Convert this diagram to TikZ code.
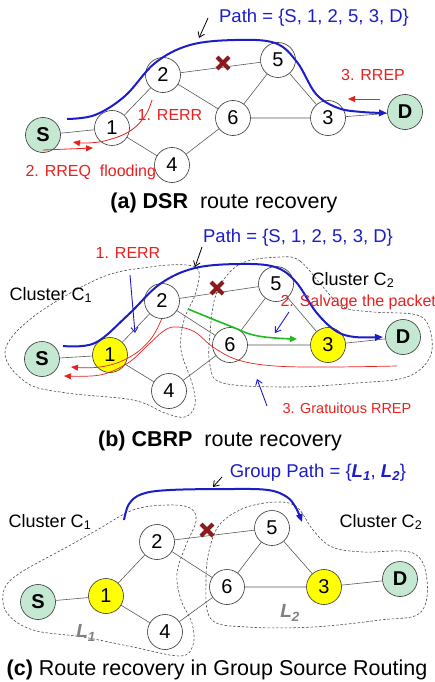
\documentclass[tikz,border=0pt]{standalone}
\usepackage{fontspec}
\setmainfont{Liberation Sans}
\usetikzlibrary{arrows.meta}

\definecolor{nodegreen}{HTML}{C4E8D2}
\definecolor{nodeyellow}{HTML}{FFFF00}
\definecolor{pathblue}{HTML}{1C1CC8}
\definecolor{msgred}{HTML}{E8201E}
\definecolor{brkred}{HTML}{8B1A1A}
\definecolor{salvgreen}{HTML}{22B822}

\begin{document}
\begin{tikzpicture}[x=1pt,y=-1pt,
  vtx/.style={circle,draw=black!80,line width=0.6pt,fill=white,minimum size=35pt,
    inner sep=0pt,font=\fontsize{20}{22}\selectfont},
  endpt/.style={vtx,fill=nodegreen,font=\fontsize{20}{22}\selectfont\bfseries},
  head/.style={vtx,fill=nodeyellow},
  link/.style={draw=black!65,line width=0.6pt},
  route/.style={draw=pathblue,line width=2pt,-{Triangle[length=8pt,width=6.5pt]}},
  msg/.style={draw=msgred,line width=0.8pt,-{Triangle[length=7pt,width=6pt]}},
  salv/.style={draw=salvgreen,line width=1.6pt,-{Triangle[length=7pt,width=6pt]}},
  pointer/.style={draw=pathblue,line width=0.9pt,-{Straight Barb[length=5pt,width=7pt]}},
  callout/.style={draw=black,line width=0.8pt,-{Straight Barb[length=5pt,width=7pt]}},
  cluster/.style={draw=black!70,dash pattern=on 2.5pt off 1.8pt,line width=0.6pt},
  pathlbl/.style={text=pathblue,font=\fontsize{18.5}{20}\selectfont},
  msglbl/.style={text=msgred,font=\fontsize{16}{18}\selectfont},
  clulbl/.style={font=\fontsize{18}{20}\selectfont},
  caption/.style={font=\fontsize{21.5}{24}\selectfont},
  grp/.style={text=black!50,font=\fontsize{19}{20}\selectfont\bfseries\itshape},
  brk/.pic={\draw[brkred,line width=4.2pt] (-6,-6)--(6,6) (-6,6)--(6,-6);}
]
\useasboundingbox (0,0) rectangle (435,682);

% ---------------- (a) DSR ----------------
\node[endpt] (aS) at (43,135) {S};
\node[vtx]   (a1) at (112,128) {1};
\node[vtx]   (a2) at (163,75) {2};
\node[vtx]   (a5) at (278,60) {5};
\node[vtx]   (a6) at (233,118) {6};
\node[vtx]   (a3) at (328,118) {3};
\node[endpt] (aD) at (405,112) {D};
\node[vtx]   (a4) at (172,165) {4};
\draw[link] (aS)--(a1) (a1)--(a2) (a1)--(a4) (a2)--(a5) (a2)--(a6)
            (a5)--(a6) (a5)--(a3) (a6)--(a3) (a3)--(aD) (a4)--(a6);
\pic at (223,63) {brk};
\draw[route] plot[smooth,tension=0.6] coordinates {(67,119) (95,115) (125,96) (155,63)
  (190,45) (235,40) (275,43) (297,62) (316,94) (338,108) (362,112) (387,113)};
\node[pathlbl] (apath) at (314,18) {Path = \{S, 1, 2, 5, 3, D\}};
\coordinate (acallA) at (208,18);
\coordinate (acallB) at (199,38);
\draw[callout] (acallA)--(acallB);
\draw[msg] plot[smooth,tension=0.7] coordinates {(152,100) (145,116) (130,131) (108,140) (88,143) (73,142)};
\node[msglbl] (arerr) at (170,115) {1. RERR};
\coordinate (arreqA) at (43,150);
\coordinate (arreqB) at (93,148);
\draw[msg] (arreqA)--(arreqB);
\node[msglbl,anchor=west] (arreq) at (22,172) {2. RREQ\ \ flooding};
\node[msglbl] (arrep) at (373,75) {3. RREP};
\coordinate (arrepA) at (380,99);
\coordinate (arrepB) at (348,99);
\draw[msg] (arrepA)--(arrepB);
\node[caption] (acap) at (224,203) {\textbf{(a) DSR}\ \ route recovery};

% ---------------- (b) CBRP ----------------
\draw[cluster] plot[smooth cycle,tension=0.6] coordinates {(5,352) (33,317) (100,278)
  (150,267) (187,265) (199,272) (195,295) (184,320) (181,350) (192,383) (195,405)
  (185,417) (165,413) (133,400) (67,393) (27,383)};
\draw[cluster] plot[smooth cycle,tension=0.6] coordinates {(280,257) (300,261) (323,287)
  (343,307) (373,312) (417,315) (430,330) (430,357) (407,377) (357,383) (290,387)
  (223,383) (210,365) (210,333) (217,292) (240,264)};
\node[endpt] (bS) at (42,359) {S};
\node[head]  (b1) at (110,355) {1};
\node[vtx]   (b2) at (162,301) {2};
\node[vtx]   (b5) at (276,284) {5};
\node[vtx]   (b6) at (230,345) {6};
\node[head]  (b3) at (328,345) {3};
\node[endpt] (bD) at (403,337) {D};
\node[vtx]   (b4) at (169,391) {4};
\draw[link] (bS)--(b1) (b1)--(b2) (b1)--(b4) (b2)--(b5) (b2)--(b6)
            (b5)--(b6) (b5)--(b3) (b6)--(b3) (b3)--(bD) (b4)--(b6);
\pic at (217,288) {brk};
\draw[route] plot[smooth,tension=0.6] coordinates {(63,346) (95,343) (128,315) (160,284)
  (195,268) (240,264) (275,267) (296,282) (316,312) (336,331) (355,337) (383,337)};
\node[pathlbl] (bpath) at (298,238) {Path = \{S, 1, 2, 5, 3, D\}};
\coordinate (bcallA) at (202,247);
\coordinate (bcallB) at (195,267);
\draw[callout] (bcallA)--(bcallB);
\node[msglbl] (brerr) at (128,253) {1. RERR};
\coordinate (brerrA) at (130,275);
\coordinate (brerrB) at (135,333);
\draw[pointer] (brerrA)--(brerrB);
\draw[msg,line width=0.7pt] plot[smooth,tension=0.7] coordinates {(162,318) (150,340) (128,358) (100,367) (71,367)};
\draw[msg,line width=0.7pt] plot[smooth,tension=0.6] coordinates {(397,366) (330,367) (275,366) (238,360)
  (213,347) (195,332) (178,327) (165,330) (148,345) (128,363) (100,375) (64,376)};
\draw[salv] plot[smooth,tension=0.7] coordinates {(188,309) (230,326) (258,336) (297,339)};
\node[clulbl,anchor=west] (bc1) at (6,295) {Cluster C\textsubscript{1}};
\node[clulbl] (bc2) at (353,280) {Cluster C\textsubscript{2}};
\node[msglbl,anchor=west] (bsalv) at (277,302) {2. Salvage the packet};
\coordinate (bsalvA) at (289,312);
\coordinate (bsalvB) at (275,333);
\draw[pointer] (bsalvA)--(bsalvB);
\coordinate (bgratA) at (267,406);
\coordinate (bgratB) at (257,379);
\draw[pointer] (bgratA)--(bgratB);
\node[msglbl,font=\fontsize{14.5}{16}\selectfont] (bgrat) at (347,408) {3. Gratuitous RREP};
\node[caption] (bcap) at (220,441) {\textbf{(b) CBRP}\ \ route recovery};

% ---------------- (c) Group Source Routing ----------------
\draw[cluster] plot[smooth cycle,tension=0.6] coordinates {(97,530) (133,510) (167,505)
  (190,508) (196,521) (186,545) (177,573) (181,600) (192,623) (193,645) (180,656)
  (133,647) (83,637) (33,630) (7,613) (4,590) (20,573) (67,547)};
\draw[cluster] plot[smooth cycle,tension=0.6] coordinates {(280,502) (298,508) (313,530)
  (332,547) (363,552) (413,553) (427,580) (420,613) (380,620) (313,627) (247,627)
  (211,619) (206,580) (210,547) (221,523) (247,507)};
\node[endpt] (cS) at (38,602) {S};
\node[head]  (c1) at (106,596) {1};
\node[vtx]   (c2) at (157,542) {2};
\node[vtx]   (c5) at (272,528) {5};
\node[vtx]   (c6) at (227,587) {6};
\node[head]  (c3) at (324,587) {3};
\node[endpt] (cD) at (400,579) {D};
\node[vtx]   (c4) at (165,632) {4};
\draw[link] (cS)--(c1) (c1)--(c2) (c1)--(c4) (c2)--(c5) (c2)--(c6)
            (c5)--(c6) (c5)--(c3) (c6)--(c3) (c3)--(cD) (c4)--(c6);
\pic at (207,530) {brk};
\draw[route] plot[smooth,tension=0.6] coordinates {(124,520) (129,504) (142,494) (170,490)
  (230,489) (268,490) (287,497) (296,508) (302,522)};
\node[pathlbl] (cpath) at (318,473) {Group Path = \{\textbf{\textit{L\textsubscript{1}}}, \textbf{\textit{L\textsubscript{2}}}\}};
\coordinate (ccallA) at (222,477);
\coordinate (ccallB) at (213,487);
\draw[callout] (ccallA)--(ccallB);
\node[clulbl] (cc1) at (50,522) {Cluster C\textsubscript{1}};
\node[clulbl] (cc2) at (381,522) {Cluster C\textsubscript{2}};
\node[grp] (cl1) at (86,633) {L\textsubscript{1}};
\node[grp] (cl2) at (290,613) {L\textsubscript{2}};
\node[caption] (ccap) at (217,670) {\textbf{(c)} Route recovery in Group Source Routing};
\end{tikzpicture}
\end{document}
